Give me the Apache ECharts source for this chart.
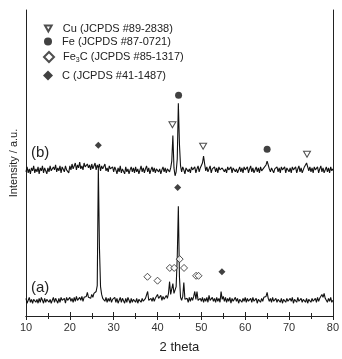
<!DOCTYPE html>
<html>
<head>
<meta charset="utf-8">
<script src="https://cdn.jsdelivr.net/npm/echarts@6/dist/echarts.min.js"></script>
<style>
  html, body { margin: 0; padding: 0; background: #fff; }
  #chart { width: 342px; height: 359px; }
</style>
</head>
<body>
<div id="chart"></div>
<script>
// 2 theta scan: 10..80 deg, step 0.25
const thetaStart = 10;
const thetaStep = 0.25;

// intensity of pattern (b), one row per 5 degrees
const intensityB = [
    147,152,146,150,145,151,148,153,146,150,147,152,145,151,148,153,146,151,149,145,
    151,147,153,148,146,152,149,154,147,151,148,153,146,152,150,147,153,149,151,146,
    153,149,155,150,152,156,149,154,151,157,150,153,149,156,152,150,155,151,154,149,
    155,150,153,156,149,154,151,155,148,153,150,152,155,148,151,147,153,150,148,152,
    147,152,149,145,151,147,153,146,150,148,145,152,147,150,145,149,152,147,151,146,
    152,147,150,145,149,153,147,151,146,150,153,147,151,145,149,152,147,151,146,150,
    152,147,150,145,149,152,147,151,146,150,152,147,151,158,184,151,143,147,160,217,
    175,153,147,152,149,145,151,153,147,150,146,152,149,147,152,146,150,153,147,151,
    152,156,163,155,148,152,147,150,153,146,150,148,152,147,151,146,152,149,147,151,
    153,147,150,146,152,149,147,152,146,151,153,147,150,146,149,152,147,151,146,152,
    149,147,152,146,150,153,147,151,146,149,152,147,151,146,152,148,147,151,152,154,
    158,154,150,147,151,153,146,150,148,152,147,151,146,152,149,147,152,146,151,153,
    147,151,146,152,149,147,152,146,150,153,147,151,146,149,152,151,156,152,148,152,
    147,151,146,152,149,147,152,146,150,153,147,151,146,149,152,147,151,146,152,148,
    150
];

// intensity of pattern (a)
const intensityA = [
    18,13,16,19,14,17,13,17,19,14,17,13,18,14,19,16,13,18,14,17,
    19,14,17,13,16,19,14,18,16,13,18,14,19,16,14,18,13,19,16,14,
    19,15,18,14,19,15,20,16,17,19,16,20,15,19,17,20,24,19,21,18,
    22,19,23,21,25,31,152,70,30,22,18,17,15,19,14,18,15,19,14,17,
    17,19,14,18,13,16,19,14,18,16,13,18,14,19,16,13,18,14,17,19,
    14,18,13,17,19,14,18,15,14,18,16,25,16,14,18,15,19,15,18,20,
    22,18,19,21,16,20,17,19,21,18,23,35,22,23,33,23,22,30,60,112,
    40,19,16,20,34,17,15,18,14,19,15,19,16,20,25,17,25,16,14,18,
    15,19,14,18,15,19,14,21,16,14,19,15,18,14,19,15,18,14,25,17,
    20,15,19,14,18,15,19,13,18,15,14,19,15,18,13,17,19,14,18,15,
    19,14,18,15,13,18,14,19,15,14,18,13,17,19,14,18,15,19,17,20,
    24,18,15,18,14,19,15,13,18,14,17,19,14,18,13,17,19,14,18,15,
    14,18,15,19,13,17,18,14,19,15,13,18,14,17,19,14,18,13,17,19,
    14,18,15,13,18,14,19,15,18,20,22,19,23,18,17,14,18,15,19,14,
    16
];

// phase markers [2 theta, height]
const cuMarks = [[43.4,195],[50.4,173],[74.1,165]];
const feMarks = [[44.8,225],[65.0,170]];
const fe3cMarks = [[37.7,40],[40.0,36],[42.8,49],[43.8,49],[45.05,58],[46.05,49],[48.8,41],[49.35,41]];
const cMarks = [[26.5,174],[44.6,131],[54.7,45]];

const phaseNames = ['Cu (JCPDS #89-2838)', 'Fe (JCPDS #87-0721)', 'Fe3C (JCPDS #85-1317)', 'C (JCPDS #41-1487)'];
const legendTops = [23, 36, 51, 70];
const legendIcons = [[7, 6], [8, 8], [10, 10], [10, 10]];

const FONT = 'Liberation Sans';
const TEXT = '#222';
const triDown = 'path://M0,0 L10,0 L5,9 Z';

const toPairs = arr => arr.map((v, i) => [thetaStart + i * thetaStep, v]);

const chart = echarts.init(document.getElementById('chart'));

// one legend per phase so the rows can sit where they do in the figure
const legends = phaseNames.map((name, i) => {
    const w = legendIcons[i][0];
    const left = 48 - Math.round(w / 2);
    return {
        data: [name],
        left: left,
        top: legendTops[i],
        padding: 0,
        itemWidth: w,
        itemHeight: legendIcons[i][1],
        selectedMode: false,
        textStyle: {
            fontFamily: FONT,
            fontSize: 11,
            color: TEXT,
            padding: [0, 0, 0, 62 - left - w - 5],
            rich: {
                n: { fontFamily: FONT, fontSize: 11, color: TEXT },
                s: { fontFamily: FONT, fontSize: 7, color: TEXT, padding: [7, 0, 0, 0] }
            }
        },
        formatter: n => n.startsWith('Fe3C') ? '{n|Fe}{s|3}{n|C (JCPDS #85-1317)}' : n
    };
});

const hollow = { color: '#fff', borderColor: '#222', borderWidth: 1 };
const filled = { color: '#111', borderColor: '#111', borderWidth: 0 };

const option = {
    animation: false,
    grid: { left: 25, right: 7, top: 10, bottom: 37 },
    legend: legends,
    xAxis: [{
        type: 'value',
        min: 10, max: 80, interval: 10,
        name: '2 theta',
        nameLocation: 'middle',
        nameGap: 25,
        nameTextStyle: { fontFamily: FONT, fontSize: 13, color: TEXT },
        axisLine: { lineStyle: { color: '#222', width: 1 } },
        axisTick: { inside: true, length: 4, lineStyle: { color: '#222' } },
        minorTick: { show: true, splitNumber: 2, length: 3, lineStyle: { color: '#222' } },
        axisLabel: { fontFamily: FONT, fontSize: 11, color: '#333', margin: 6 },
        splitLine: { show: false }
    }, {
        type: 'value',
        position: 'top',
        min: 10, max: 80, interval: 10,
        axisLine: { show: true, lineStyle: { color: '#222', width: 1 } },
        axisTick: { inside: true, length: 4, lineStyle: { color: '#222' } },
        minorTick: { show: true, splitNumber: 2, length: 3, lineStyle: { color: '#222' } },
        axisLabel: { show: false },
        splitLine: { show: false }
    }],
    yAxis: [{
        type: 'value',
        min: 0, max: 312,
        name: 'Intensity / a.u.',
        nameLocation: 'middle',
        nameGap: 7,
        nameTextStyle: { fontFamily: FONT, fontSize: 11, color: TEXT },
        axisLine: { show: true, lineStyle: { color: '#222', width: 1 } },
        axisTick: { show: false },
        axisLabel: { show: false },
        splitLine: { show: false }
    }, {
        type: 'value',
        position: 'right',
        min: 0, max: 312,
        axisLine: { show: true, lineStyle: { color: '#222', width: 1 } },
        axisTick: { show: false },
        axisLabel: { show: false },
        splitLine: { show: false }
    }],
    graphic: [
        { type: 'text', left: 31, top: 145, style: { text: '(b)', fontFamily: FONT, fontSize: 15, fill: TEXT } },
        { type: 'text', left: 31, top: 280, style: { text: '(a)', fontFamily: FONT, fontSize: 15, fill: TEXT } }
    ],
    series: [
        {
            type: 'line', data: toPairs(intensityB), showSymbol: false, symbol: 'none',
            lineStyle: { color: '#111', width: 1.1 }, z: 2
        },
        {
            type: 'line', data: toPairs(intensityA), showSymbol: false, symbol: 'none',
            lineStyle: { color: '#111', width: 1.1 }, z: 2
        },
        {
            name: phaseNames[0], type: 'scatter', data: cuMarks,
            symbol: triDown, symbolSize: [7, 6], itemStyle: hollow, z: 5
        },
        {
            name: phaseNames[1], type: 'scatter', data: feMarks,
            symbol: 'circle', symbolSize: 7, itemStyle: filled, z: 5
        },
        {
            name: phaseNames[2], type: 'scatter', data: fe3cMarks,
            symbol: 'diamond', symbolSize: [7, 7], itemStyle: hollow, z: 5
        },
        {
            name: phaseNames[3], type: 'scatter', data: cMarks,
            symbol: 'diamond', symbolSize: [7, 7], itemStyle: filled, z: 5
        }
    ]
};

chart.setOption(option);
</script>
</body>
</html>
